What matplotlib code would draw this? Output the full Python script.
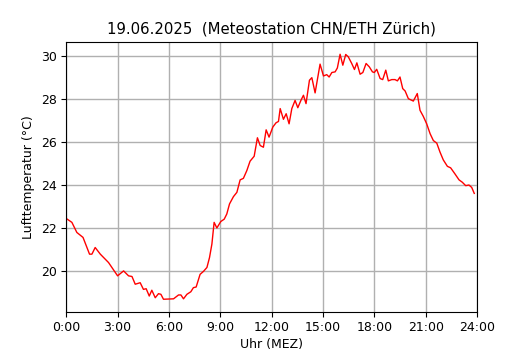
import matplotlib
matplotlib.use("Agg")
import matplotlib.pyplot as plt

hours = [0.0, 0.33, 0.62, 0.98, 1.36, 1.50, 1.69, 1.99, 2.47, 3.00, 3.35, 3.64, 3.84, 4.03,
         4.32, 4.51, 4.67, 4.85, 5.00, 5.20, 5.39, 5.53, 5.68, 6.27, 6.56, 6.70, 6.85, 7.05,
         7.28, 7.43, 7.59, 7.82, 8.02, 8.22, 8.37, 8.51, 8.64, 8.80, 9.03, 9.23, 9.38, 9.54,
         9.77, 9.97, 10.16, 10.35, 10.55, 10.74, 10.98, 11.17, 11.33, 11.52, 11.68, 11.85,
         12.07, 12.26, 12.40, 12.50, 12.69, 12.85, 13.02, 13.18, 13.37, 13.53, 13.71, 13.86,
         14.01, 14.21, 14.35, 14.54, 14.83, 15.03, 15.22, 15.36, 15.52, 15.71, 15.84, 16.00,
         16.16, 16.33, 16.48, 16.68, 16.84, 16.98, 17.17, 17.33, 17.52, 17.71, 17.89, 18.00,
         18.14, 18.34, 18.49, 18.67, 18.82, 19.02, 19.21, 19.35, 19.50, 19.66, 19.80, 19.99,
         20.28, 20.51, 20.67, 20.86, 21.06, 21.26, 21.45, 21.65, 21.84, 22.03, 22.27, 22.46,
         22.71, 22.95, 23.14, 23.34, 23.53, 23.69, 23.84]
temps = [22.44, 22.26, 21.79, 21.56, 20.78, 20.78, 21.09, 20.78, 20.39, 19.77, 20.0, 19.77, 19.74, 19.38,
         19.45, 19.14, 19.17, 18.83, 19.1, 18.75, 18.94, 18.91, 18.68, 18.7, 18.88, 18.88, 18.7, 18.91,
         19.03, 19.22, 19.25, 19.84, 19.98, 20.16, 20.62, 21.25, 22.26, 22.0, 22.3, 22.41, 22.65, 23.12,
         23.46, 23.66, 24.24, 24.31, 24.67, 25.11, 25.34, 26.2, 25.84, 25.76, 26.57, 26.23,
         26.7, 26.9, 26.96, 27.56, 27.06, 27.32, 26.85, 27.56, 27.94, 27.6, 27.94, 28.18,
         27.79, 28.88, 29.0, 28.29, 29.63, 29.08, 29.14, 29.03, 29.24, 29.27, 29.45, 30.09,
         29.58, 30.08, 29.97, 29.66, 29.38, 29.69, 29.16, 29.24, 29.66, 29.5, 29.27, 29.24,
         29.39, 28.96, 28.91, 29.35, 28.85, 28.91, 28.91, 28.85, 29.03, 28.49, 28.38, 28.02,
         27.91, 28.26, 27.48, 27.2, 26.85, 26.39, 26.07, 25.95, 25.53, 25.17, 24.87, 24.8,
         24.52, 24.24, 24.13, 23.97, 24.0, 23.89, 23.61]
xticks = [0, 3, 6, 9, 12, 15, 18, 21, 24]
xticklabels = ["0:00", "3:00", "6:00", "9:00", "12:00", "15:00", "18:00", "21:00", "24:00"]

fig, ax = plt.subplots(figsize=(5.3, 3.5), dpi=100)
ax.plot(hours, temps, color="red", linewidth=1)
ax.set_xlim(0, 24)
ax.set_xticks(xticks)
ax.set_xticklabels(xticklabels)
ax.grid(True, color="#b0b0b0", linewidth=1)
ax.set_axisbelow(True)
ax.set_title("19.06.2025  (Meteostation CHN/ETH Zürich)", fontsize=10.75)
ax.set_xlabel("Uhr (MEZ)", fontsize=9, labelpad=2.5)
ax.set_ylabel("Lufttemperatur (°C)", fontsize=9)
ax.tick_params(labelsize=9)
fig.savefig("out.png", dpi=100)
